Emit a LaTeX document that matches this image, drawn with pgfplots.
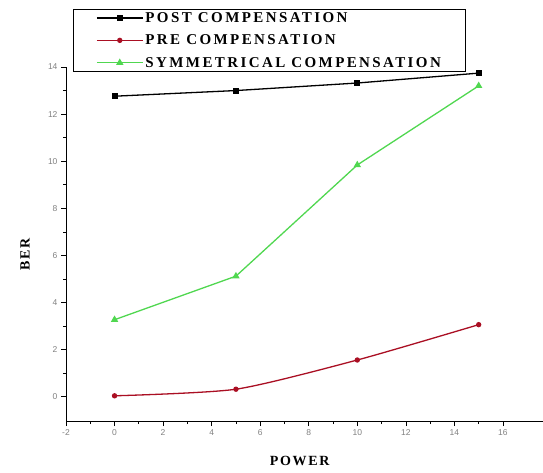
\documentclass[border=0pt]{standalone}
\usepackage{fontspec}
\setmainfont{Liberation Serif}
\newfontfamily\tickfont{Liberation Sans}
\newfontfamily\legfont[LetterSpace=16]{Liberation Serif}
\newfontfamily\labfont[LetterSpace=12]{Liberation Serif}
\usepackage{pgfplots}
\pgfplotsset{compat=1.18}
\definecolor{postc}{RGB}{0,0,0}
\definecolor{prec}{RGB}{170,15,35}
\definecolor{symc}{RGB}{80,215,80}
\begin{document}
\begin{tikzpicture}
\useasboundingbox (0pt,0pt) rectangle (543pt,472pt);
\begin{axis}[
  at={(66pt,51pt)}, anchor=south west,
  scale only axis, width=477pt, height=354pt,
  xmin=-2, xmax=17.65, ymin=-1.03, ymax=14,
  axis x line*=bottom, axis y line*=left,
  axis line style={black, line width=0.9pt},
  xtick={-2,0,...,16}, ytick={0,2,...,14},
  minor x tick num=1, minor y tick num=1,
  tick align=outside,
  major tick length=5pt, minor tick length=3pt,
  tick style={black, line width=0.7pt},
  /pgf/number format/assume math mode=true,
  tick label style={font=\tickfont\fontsize{8.5}{9}\selectfont, text=gray},
  xlabel={\labfont\bfseries POWER},
  ylabel={\labfont\bfseries BER},
  label style={font=\fontsize{14}{15}\selectfont},
  xlabel style={at={(axis description cs:0.49,0)}, anchor=center, yshift=-40pt},
  ylabel style={at={(axis description cs:0,0.47)}, anchor=center, rotate=0, yshift=41pt},
  legend style={at={(axis description cs:0.014,0.986)}, anchor=south west,
    draw=black, line width=0.9pt, fill=white,
    font=\legfont\bfseries\fontsize{15}{16}\selectfont,
    inner xsep=23pt, inner ysep=1pt, row sep=7pt},
  legend cell align=left,
  legend image code/.code={
    \draw[mark repeat=2, mark phase=2, #1] plot coordinates {(0pt,0pt) (23pt,0pt) (46pt,0pt)};
  },
]
\addplot[postc, line width=1.3pt, mark=square*, mark size=2.4pt] coordinates {
  (0,12.76) (5,13.0) (10,13.32) (15,13.74)
};
\addplot[prec, line width=1.3pt, smooth, tension=0.4, mark=*, mark size=2pt] coordinates {
  (0,0.04) (5,0.32) (10,1.56) (15,3.06)
};
\addplot[symc, line width=1.3pt, mark=triangle*, mark size=3pt] coordinates {
  (0,3.27) (5,5.12) (10,9.84) (15,13.2)
};
\legend{POST COMPENSATION, PRE COMPENSATION, SYMMETRICAL COMPENSATION}
\end{axis}
\end{tikzpicture}
\end{document}
